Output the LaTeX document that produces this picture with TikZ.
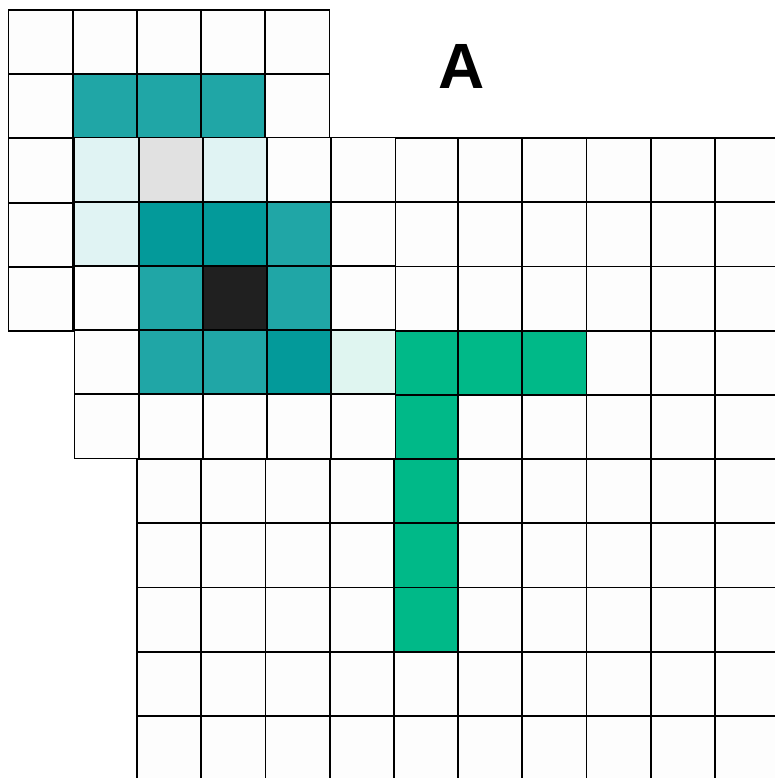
\documentclass[tikz,border=0pt]{standalone}
\usepackage{fontspec}
\setmainfont{Liberation Sans}
\definecolor{tealm}{RGB}{32,166,166}
\definecolor{tealdk}{RGB}{3,154,154}
\definecolor{teallt}{RGB}{224,243,243}
\definecolor{graylt}{RGB}{225,225,225}
\definecolor{blackc}{RGB}{32,32,32}
\definecolor{mintlt}{RGB}{223,245,240}
\definecolor{greenc}{RGB}{0,185,136}
\definecolor{cellw}{RGB}{253,253,253}
\begin{document}
\begin{tikzpicture}[x=1pt,y=-1pt,
  cell/.style={draw=black,line width=1.8pt,fill=cellw}]
\useasboundingbox (0,0) rectangle (775,778);
\def\c{64.2}
% large grid
\begin{scope}
\clip (0,0) rectangle (775,778);
\foreach \i in {0,...,9} \foreach \j in {0,...,9}
  \filldraw[cell] ({137+\i*\c},{138+\j*\c}) rectangle ++(\c,\c);
\foreach \i/\j in {4/3,5/3,6/3,4/4,4/5,4/6,4/7}
  \filldraw[cell,fill=greenc] ({137+\i*\c},{138+\j*\c}) rectangle ++(\c,\c);
\end{scope}
% top-left grid
\foreach \i in {0,...,4} \foreach \j in {0,...,4}
  \filldraw[cell] ({8.5+\i*\c},{10+\j*\c}) rectangle ++(\c,\c);
\foreach \i in {1,2,3}
  \filldraw[cell,fill=tealm] ({8.5+\i*\c},{10+\c}) rectangle ++(\c,\c);
% middle grid
\foreach \i in {0,...,4} \foreach \j in {0,...,4}
  \filldraw[cell] ({74.5+\i*\c},{137.5+\j*\c}) rectangle ++(\c,\c);
\foreach \i/\j/\col in {0/0/teallt,1/0/graylt,2/0/teallt,
    0/1/teallt,1/1/tealdk,2/1/tealdk,3/1/tealm,
    1/2/tealm,2/2/blackc,3/2/tealm,
    1/3/tealm,2/3/tealm,3/3/tealdk,4/3/mintlt}
  \filldraw[cell,fill=\col] ({74.5+\i*\c},{137.5+\j*\c}) rectangle ++(\c,\c);
\node[font=\fontsize{64}{64}\selectfont\bfseries] (lblA) at (462,66) {A};
\end{tikzpicture}
\end{document}
